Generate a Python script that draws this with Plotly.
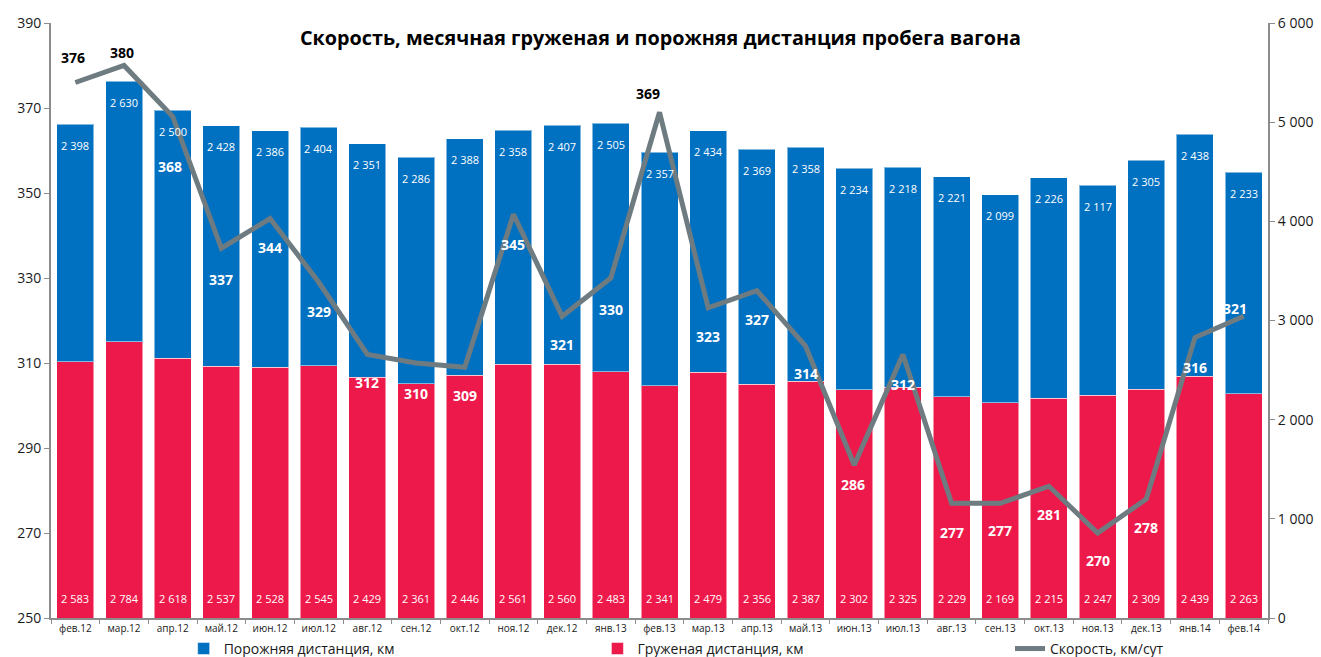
import plotly.graph_objects as go

months = ["фев.12", "мар.12", "апр.12", "май.12", "июн.12", "июл.12", "авг.12", "сен.12",
          "окт.12", "ноя.12", "дек.12", "янв.13", "фев.13", "мар.13", "апр.13", "май.13",
          "июн.13", "июл.13", "авг.13", "сен.13", "окт.13", "ноя.13", "дек.13", "янв.14", "фев.14"]
loaded_km = [2583, 2784, 2618, 2537, 2528, 2545, 2429, 2361, 2446, 2561, 2560, 2483, 2341,
             2479, 2356, 2387, 2302, 2325, 2229, 2169, 2215, 2247, 2309, 2439, 2263]
empty_km = [2398, 2630, 2500, 2428, 2386, 2404, 2351, 2286, 2388, 2358, 2407, 2505, 2357,
            2434, 2369, 2358, 2234, 2218, 2221, 2099, 2226, 2117, 2305, 2438, 2233]
speed = [376, 380, 368, 337, 344, 329, 312, 310, 309, 345, 321, 330, 369, 323, 327, 314,
         286, 312, 277, 277, 281, 270, 278, 316, 321]

# label styling (pixel offsets of speed labels relative to the points)
label_dy = [25, 13, -50, -31, -29, -29, -28, -30, -28, -30, -28, -31, 19, -29, -29, -27,
            -19, -30, -29, -27, -28, -27, -28, -30, 8]
label_dx = [-2, -2, -3, 0, 0, 0, 0, 0, 0, 0, 0, 0, -12, 0, 0, 0, -1, 0, 0, 0, 0, 0, 0, 0, -9]
label_dark = [True, True] + [False] * 10 + [True] + [False] * 12

BLUE = "#0070C0"
RED = "#EE194B"
GRAY = "#6E7B81"
FONT = "Open Sans"
TXT = "#1a1a1a"

def fmt(v):
    return f"{v:,}".replace(",", " ")

fig = go.Figure()
fig.add_trace(go.Bar(x=months, y=loaded_km, name="Груженая дистанция, км",
                     marker=dict(color=RED, line=dict(color="rgba(255,255,255,0.5)", width=1)),
                     yaxis="y", legend="legend2", showlegend=True, hoverinfo="skip"))
fig.add_trace(go.Bar(x=months, y=empty_km, name="Порожняя дистанция, км",
                     marker=dict(color=BLUE, line=dict(color="rgba(255,255,255,0.5)", width=1)),
                     yaxis="y", legend="legend", showlegend=True, hoverinfo="skip"))
fig.add_trace(go.Scatter(x=months, y=speed, name="Скорость, км/сут", mode="lines",
                         line=dict(color=GRAY, width=5), yaxis="y2", legend="legend3",
                         showlegend=True, hoverinfo="skip"))

ann = []
for m, lo, em in zip(months, loaded_km, empty_km):
    ann.append(dict(x=m, y=lo + em, yref="y", text=fmt(em), showarrow=False, yshift=-21,
                    font=dict(family=FONT, size=11, color="white")))
    ann.append(dict(x=m, y=0, yref="y", text=fmt(lo), showarrow=False, yshift=20,
                    font=dict(family=FONT, size=11, color="white")))
for m, s, dy, dx, dark in zip(months, speed, label_dy, label_dx, label_dark):
    ann.append(dict(x=m, y=s, yref="y2", text=f"<b>{s}</b>", showarrow=False,
                    yshift=dy, xshift=dx,
                    font=dict(family=FONT, size=14, color="black" if dark else "white")))

leg_common = dict(orientation="h", y=-0.052, yanchor="middle", xanchor="left",
                  bgcolor="rgba(0,0,0,0)", font=dict(family=FONT, size=14, color=TXT))

fig.update_layout(
    width=1321, height=657,
    margin=dict(l=51, r=53, t=23, b=39, autoexpand=False),
    paper_bgcolor="white", plot_bgcolor="white",
    barmode="stack", bargap=0.24,
    separators=", ",
    showlegend=True,
    font=dict(family=FONT, color=TXT),
    title=dict(text="<b>Скорость, месячная груженая и порожняя дистанция пробега вагона</b>",
               x=0.5, xanchor="center", y=0.942, yanchor="middle",
               font=dict(family=FONT, size=19.8, color="black")),
    xaxis=dict(type="category", showline=True, linecolor="#8c8c8c", linewidth=2,
               ticks="outside", tickson="boundaries", ticklen=4, tickcolor="#8c8c8c",
               tickfont=dict(size=10, color=TXT), showgrid=False, automargin=False),
    yaxis=dict(side="right", range=[0, 6000], dtick=1000, tick0=0, tickformat=",d",
               showline=True, linecolor="#8c8c8c", linewidth=2, ticks="outside",
               ticklen=5, tickcolor="#8c8c8c", showgrid=False, zeroline=False,
               automargin=False, tickfont=dict(size=14, color=TXT)),
    yaxis2=dict(side="left", overlaying="y", range=[250, 390], dtick=20, tick0=250,
                showline=True, linecolor="#8c8c8c", linewidth=2, ticks="outside",
                ticklen=5, tickcolor="#8c8c8c", showgrid=False, zeroline=False,
                automargin=False, tickfont=dict(size=14, color=TXT)),
    legend=dict(x=0.109, **leg_common),
    legend2=dict(x=0.449, **leg_common),
    legend3=dict(x=0.788, **leg_common),
    annotations=ann,
)

fig.write_html("out.html", post_script="document.body.style.margin='0';",
               config={"displayModeBar": False})
